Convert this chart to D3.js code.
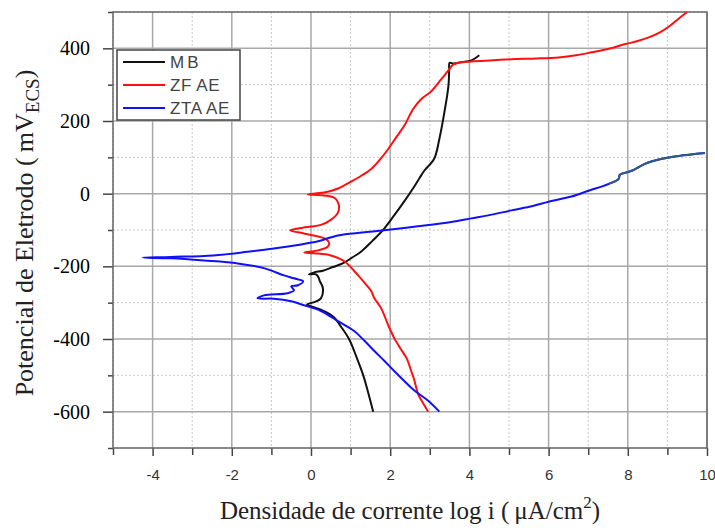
<!DOCTYPE html>
<html>
<head>
<meta charset="utf-8">
<script src="https://cdn.jsdelivr.net/npm/d3@7"></script>
<style>
  body { margin: 0; background: #fff; }
  svg { display: block; }
</style>
</head>
<body>
<svg id="chart" width="715" height="528"></svg>
<script>
// curves: [log i, E (mV)]
const mb = [
  [1.57, -600], [1.45, -550], [1.32, -500], [1.15, -450], [0.96, -400], [0.75, -365], [0.58, -340],
  [0.3, -322], [0.05, -312], [-0.1, -305], [0.1, -298], [0.25, -288], [0.3, -260], [0.22, -240],
  [0.2, -233], [0.13, -222], [-0.05, -222], [0.1, -216], [0.3, -212], [0.55, -202], [0.8, -192],
  [1.05, -175], [1.27, -159], [1.55, -130], [1.85, -96], [2.1, -60], [2.35, -22], [2.55, 10],
  [2.73, 41], [2.86, 63], [3.11, 96], [3.24, 150], [3.37, 225], [3.47, 296], [3.49, 340],
  [3.5, 360], [3.6, 358], [3.8, 362], [4.05, 367], [4.25, 381]
];
const zf = [
  [2.96, -600], [2.85, -580], [2.71, -553], [2.6, -510], [2.53, -488], [2.41, -452], [2.25, -425],
  [2.1, -397], [1.95, -362], [1.77, -315], [1.6, -288], [1.52, -268], [1.35, -245], [1.19, -225],
  [0.84, -186], [0.5, -170], [0.08, -164], [-0.17, -162], [0.18, -156], [0.42, -146], [0.46, -136],
  [0.36, -124], [0.1, -116], [-0.2, -109], [-0.53, -101], [-0.1, -92], [0.25, -86], [0.5, -72],
  [0.68, -52], [0.7, -30], [0.6, -12], [0.33, -5], [-0.08, -2], [0.33, 3], [0.7, 15], [1.01, 33],
  [1.25, 48], [1.52, 68], [1.75, 95], [1.95, 123], [2.15, 155], [2.35, 186], [2.58, 233],
  [2.78, 260], [3.04, 282], [3.29, 315], [3.49, 342], [3.6, 356], [4.05, 364], [4.6, 367],
  [5.06, 370], [5.7, 372], [6.25, 375], [6.7, 381], [7.09, 389], [7.5, 398], [7.92, 411],
  [8.25, 420], [8.53, 430], [8.8, 443], [9.04, 460], [9.32, 485], [9.5, 500]
];
const zta = [
  [3.24, -600], [2.96, -570], [2.61, -542], [2.35, -515], [2.1, -488], [1.85, -460], [1.6, -433],
  [1.35, -405], [1.09, -378], [0.68, -351], [0.25, -323], [-0.18, -307], [-0.5, -296],
  [-0.94, -289], [-1.35, -288], [-1.19, -280], [-0.59, -274], [-0.43, -266], [-0.5, -255],
  [-0.33, -252], [-0.2, -241], [-0.43, -233], [-0.68, -225], [-1.19, -205], [-1.85, -192],
  [-2.7, -184], [-3.54, -178], [-4.25, -176], [-3.54, -174], [-2.46, -170], [-1.6, -160],
  [-0.94, -151], [-0.33, -141], [0.18, -131], [0.68, -115], [1.3, -107], [1.85, -101],
  [2.7, -90], [3.54, -78], [4.05, -68], [4.6, -57], [5.06, -46], [5.6, -34], [6.0, -22],
  [6.58, -8], [7.01, 8], [7.52, 27], [7.77, 41], [7.8, 52], [8.1, 63], [8.43, 82], [8.86, 96],
  [9.29, 104], [9.95, 112]
];
const tailFrom = 7.5;   // end of the blue curve is drawn in a darker steel blue

const series = [
  { name: "MB", data: mb, color: "#111111" },
  { name: "ZF AE", data: zf, color: "#ff1010" },
  { name: "ZTA AE", data: zta, color: "#1010ff" }
];
const xTicks = [-4, -2, 0, 2, 4, 6, 8, 10];
const yTicks = [-600, -400, -200, 0, 200, 400];

const svg = d3.select("#chart");
const pl = 113, pr = 707, pt = 12, pb = 448;

const x = d3.scaleLinear().domain([-5, 10]).range([pl, pr]);
const y = d3.scaleLinear().domain([-700, 500]).range([pb, pt]);

// grid, minor dotted first
const minorX = d3.range(-5, 10.01, 1).filter(v => v % 2 !== 0);
const minorY = d3.range(-700, 500.01, 100).filter(v => v % 200 !== 0);
svg.append("g").selectAll("line").data(minorX).join("line")
  .attr("x1", d => x(d)).attr("x2", d => x(d)).attr("y1", pt).attr("y2", pb)
  .attr("stroke", "#c8c8c8").attr("stroke-dasharray", "2,2");
svg.append("g").selectAll("line").data(minorY).join("line")
  .attr("y1", d => y(d)).attr("y2", d => y(d)).attr("x1", pl).attr("x2", pr)
  .attr("stroke", "#c8c8c8").attr("stroke-dasharray", "2,2");
svg.append("g").selectAll("line").data(xTicks).join("line")
  .attr("x1", d => x(d)).attr("x2", d => x(d)).attr("y1", pt).attr("y2", pb)
  .attr("stroke", "#a8a8a8").attr("stroke-width", 1.5);
svg.append("g").selectAll("line").data(yTicks).join("line")
  .attr("y1", d => y(d)).attr("y2", d => y(d)).attr("x1", pl).attr("x2", pr)
  .attr("stroke", "#a8a8a8").attr("stroke-width", 1.5);

// axes
const xAxis = svg.append("g").attr("transform", `translate(0,${pb})`)
  .call(d3.axisBottom(x).tickValues(xTicks).tickSize(8).tickPadding(13).tickFormat(d => String(d)));
const xMinor = svg.append("g").attr("transform", `translate(0,${pb})`)
  .call(d3.axisBottom(x).tickValues(minorX).tickSize(7).tickFormat(""));
const yAxis = svg.append("g").attr("transform", `translate(${pl},0)`)
  .call(d3.axisLeft(y).tickValues(yTicks).tickSize(10).tickPadding(13).tickFormat(d => String(d)));
const yMinor = svg.append("g").attr("transform", `translate(${pl},0)`)
  .call(d3.axisLeft(y).tickValues(minorY).tickSize(5).tickFormat(""));

[xAxis, xMinor, yAxis, yMinor].forEach(g => {
  g.select(".domain").remove();
  g.selectAll(".tick line").attr("stroke", "#444").attr("stroke-width", 1.5);
});
xAxis.selectAll("text").attr("font-family", "Liberation Sans, Arial, sans-serif")
  .attr("font-size", 15).attr("fill", "#333");
yAxis.selectAll("text").attr("font-family", "Liberation Serif, Times New Roman, serif")
  .attr("font-size", 20).attr("fill", "#000");

// frame
svg.append("rect").attr("x", pl).attr("y", pt)
  .attr("width", pr - pl).attr("height", pb - pt)
  .attr("fill", "none").attr("stroke", "#666").attr("stroke-width", 1.5);

// curves
const line = d3.line().x(d => x(d[0])).y(d => y(d[1])).curve(d3.curveCatmullRom.alpha(0.5));
const plot = svg.append("g");
series.forEach(s => {
  plot.append("path").datum(s.data).attr("d", line)
    .attr("fill", "none").attr("stroke", s.color).attr("stroke-width", 2)
    .attr("stroke-linejoin", "round");
});
const tailStart = zta.findIndex(d => d[0] >= tailFrom);
plot.append("path").datum(zta.slice(tailStart)).attr("d", line)
  .attr("fill", "none").attr("stroke", "#2f5b80").attr("stroke-width", 2)
  .attr("stroke-linejoin", "round");

// legend
const lg = svg.append("g");
lg.append("rect").attr("x", 117).attr("y", 50).attr("width", 123).attr("height", 70)
  .attr("fill", "#fff").attr("stroke", "#444").attr("stroke-width", 1.5);
series.forEach((s, i) => {
  const ly = 62 + i * 23;
  lg.append("line").attr("x1", 123).attr("x2", 165).attr("y1", ly).attr("y2", ly)
    .attr("stroke", s.color).attr("stroke-width", 2);
  lg.append("text").attr("x", 170).attr("y", ly + 6).text(s.name)
    .attr("font-family", "Liberation Sans, Arial, sans-serif").attr("font-size", 17)
    .attr("fill", "#444").attr("letter-spacing", i === 0 ? 3 : 0.6);
});

// axis titles
const yt = svg.append("text")
  .attr("transform", "translate(33,233) rotate(-90)")
  .attr("text-anchor", "middle")
  .attr("font-family", "Liberation Serif, Times New Roman, serif")
  .attr("font-size", 26).attr("fill", "#222");
yt.append("tspan").text("Potencial de Eletrodo (\u2009mV");
yt.append("tspan").text("ECS").attr("font-size", 19).attr("dy", 6);
yt.append("tspan").text(")").attr("dy", -6);

const xt = svg.append("text")
  .attr("x", 410).attr("y", 519)
  .attr("text-anchor", "middle")
  .attr("font-family", "Liberation Serif, Times New Roman, serif")
  .attr("font-size", 25).attr("fill", "#222");
xt.append("tspan").text("Densidade de corrente log i (\u2009\u03bcA/cm");
xt.append("tspan").text("2").attr("font-size", 17).attr("dy", -11);
xt.append("tspan").text(")").attr("dy", 11);
</script>
</body>
</html>
